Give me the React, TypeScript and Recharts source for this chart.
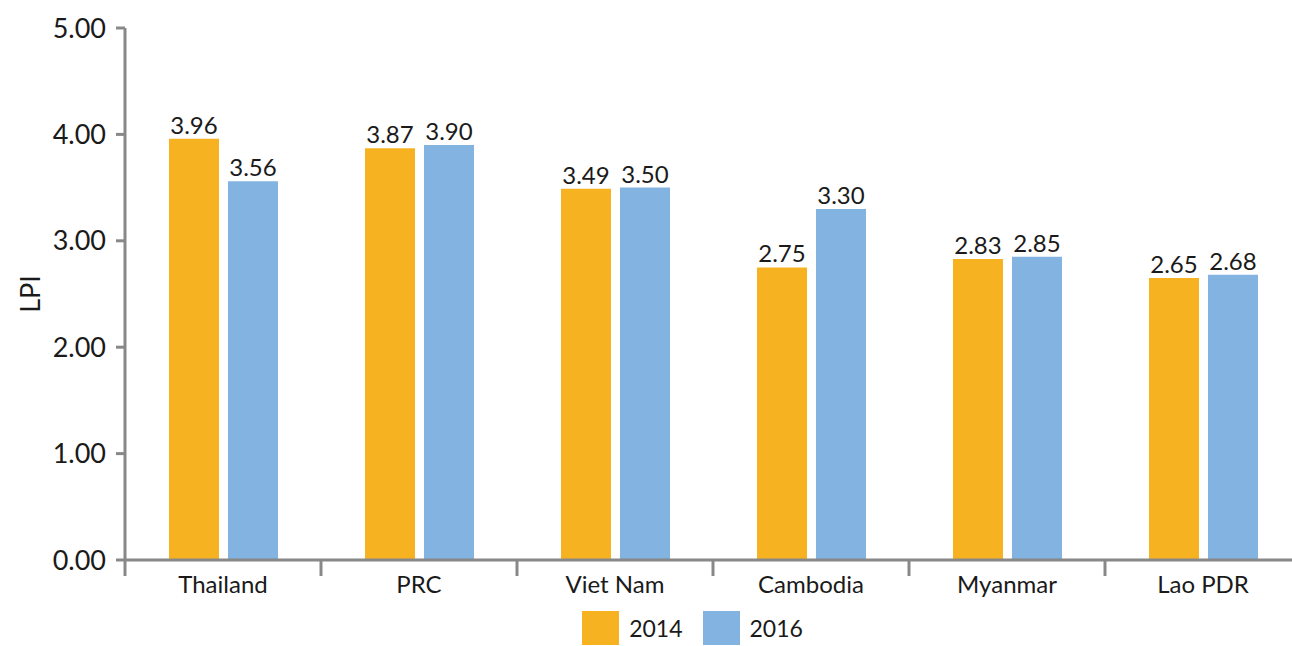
import { BarChart, Bar, XAxis, YAxis, Legend, LabelList } from 'recharts';

const countries = ['Thailand', 'PRC', 'Viet Nam', 'Cambodia', 'Myanmar', 'Lao PDR'];
const lpi2014 = [3.96, 3.87, 3.49, 2.75, 2.83, 2.65];
const lpi2016 = [3.56, 3.9, 3.5, 3.3, 2.85, 2.68];
const yTicks = [0, 1, 2, 3, 4, 5];

const ORANGE = '#F6B221';
const BLUE = '#82B3E1';
const AXIS = '#888888';
const FONT = 'Lato, "Open Sans", sans-serif';
const BAND_HALF = 98;

const data = countries.map((c, i) => ({ country: c, y2014: lpi2014[i], y2016: lpi2016[i] }));

function CountryTick(props: any) {
  const { x, y, payload, index } = props;
  return (
    <g>
      <line x1={x - BAND_HALF} y1={y} x2={x - BAND_HALF} y2={y + 16} stroke={AXIS} strokeWidth={3} />
      {index === countries.length - 1 && (
        <line x1={x + BAND_HALF} y1={y} x2={x + BAND_HALF} y2={y + 16} stroke={AXIS} strokeWidth={3} />
      )}
      <text x={x} y={y + 33} textAnchor="middle" fontSize={24} fill="#1a1a1a" fontFamily={FONT}>
        {payload.value}
      </text>
    </g>
  );
}

function LegendBox() {
  const items = [
    { label: '2014', color: ORANGE },
    { label: '2016', color: BLUE },
  ];
  return (
    <div style={{ display: 'flex', justifyContent: 'center', alignItems: 'center', height: 36, fontFamily: FONT, paddingLeft: 104 }}>
      {items.map((it) => (
        <div key={it.label} style={{ display: 'flex', alignItems: 'center', marginRight: 20 }}>
          <div style={{ width: 37, height: 34, background: it.color, marginRight: 10 }} />
          <span style={{ fontSize: 23, color: '#1a1a1a' }}>{it.label}</span>
        </div>
      ))}
    </div>
  );
}

export default function App() {
  return (
    <div style={{ position: 'absolute', left: 0, top: 0, width: 1292, height: 646, overflow: 'hidden', background: '#fff' }}>
      <BarChart
        width={1301}
        height={646}
        data={data}
        margin={{ top: 28, right: 0, left: 0, bottom: 0 }}
        barSize={50}
        barGap={9}
      >
        <YAxis
          domain={[0, 5]}
          ticks={yTicks}
          width={125}
          tickFormatter={(v: number) => v.toFixed(2)}
          axisLine={{ stroke: AXIS, strokeWidth: 3 }}
          tickLine={{ stroke: AXIS, strokeWidth: 3 }}
          tickSize={9}
          tickMargin={10}
          tick={{ fontSize: 27, fill: '#1a1a1a', fontFamily: FONT }}
          label={{ value: 'LPI', angle: -90, position: 'insideLeft', offset: 30, style: { fontSize: 27, fill: '#1a1a1a', fontFamily: FONT, textAnchor: 'middle' } }}
        />
        <XAxis
          dataKey="country"
          height={50}
          axisLine={{ stroke: AXIS, strokeWidth: 3 }}
          tickLine={false}
          tickSize={0}
          tickMargin={0}
          tick={<CountryTick />}
          interval={0}
        />
        <Legend verticalAlign="bottom" height={36} content={<LegendBox />} />
        <Bar dataKey="y2014" name="2014" fill={ORANGE} isAnimationActive={false}>
          <LabelList dataKey="y2014" position="top" offset={5} formatter={(v: any) => Number(v).toFixed(2)} style={{ fontSize: 24, fill: '#1a1a1a', fontFamily: FONT }} />
        </Bar>
        <Bar dataKey="y2016" name="2016" fill={BLUE} isAnimationActive={false}>
          <LabelList dataKey="y2016" position="top" offset={5} formatter={(v: any) => Number(v).toFixed(2)} style={{ fontSize: 24, fill: '#1a1a1a', fontFamily: FONT }} />
        </Bar>
      </BarChart>
    </div>
  );
}
